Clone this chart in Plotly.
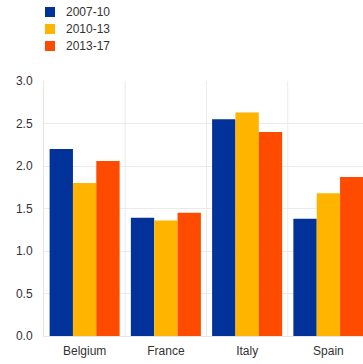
import plotly.graph_objects as go

categories = ["Belgium", "France", "Italy", "Spain"]
series_names = ["2007-10", "2010-13", "2013-17"]
v_2007_10 = [2.20, 1.39, 2.55, 1.38]
v_2010_13 = [1.80, 1.36, 2.63, 1.68]
v_2013_17 = [2.06, 1.45, 2.40, 1.87]
colors = ["#003299", "#FFB400", "#FF4B00"]

W, H = 363, 364
ML, MR, MT, MB = 44, 0, 81, 28
PW, PH = W - ML - MR, H - MT - MB

fig = go.Figure()
for name, vals, col in zip(series_names, [v_2007_10, v_2010_13, v_2013_17], colors):
    fig.add_trace(go.Bar(x=categories, y=vals, name=name, marker_color=col,
                         marker_line_width=0, showlegend=False))

def px_x(p):
    return (p - ML) / PW

def px_y(p):
    return (H - MB - p) / PH

# manual legend
leg_y = [12, 29, 46]
for name, col, cy in zip(series_names, colors, leg_y):
    fig.add_shape(type="rect", xref="paper", yref="paper",
                  x0=px_x(45), x1=px_x(55), y0=px_y(cy + 5), y1=px_y(cy - 5),
                  fillcolor=col, line_width=0)
    fig.add_annotation(text=name, xref="paper", yref="paper", x=px_x(64), y=px_y(cy),
                       xanchor="left", yanchor="middle", showarrow=False,
                       font=dict(size=12, color="#333333"))

fig.update_layout(
    width=W, height=H,
    margin=dict(l=ML, r=MR, t=MT, b=MB, pad=0),
    paper_bgcolor="white", plot_bgcolor="white",
    bargap=0.138, bargroupgap=0, barmode="group",
    font=dict(family="Liberation Sans, Arial, sans-serif", size=12, color="#333333"),
    xaxis=dict(range=[-0.5, 3.426], showgrid=False, showline=True, linecolor="#e6e6e6",
               linewidth=1, ticks="", ticklabelstandoff=4, tickfont=dict(size=12),
               fixedrange=True),
    yaxis=dict(range=[0, 3], dtick=0.5, tickformat=".1f", showgrid=True,
               gridcolor="#ebebeb", gridwidth=1, zeroline=False, showline=True,
               linecolor="#e6e6e6", linewidth=1, ticks="", ticklabelstandoff=8,
               tickfont=dict(size=12)),
)
# category separators (vertical grid between categories)
for b in [0.5, 1.5, 2.5]:
    fig.add_shape(type="line", xref="x", yref="paper", x0=b, x1=b, y0=0, y1=1,
                  line=dict(color="#ebebeb", width=1), layer="below")

fig.write_html("out.html")
